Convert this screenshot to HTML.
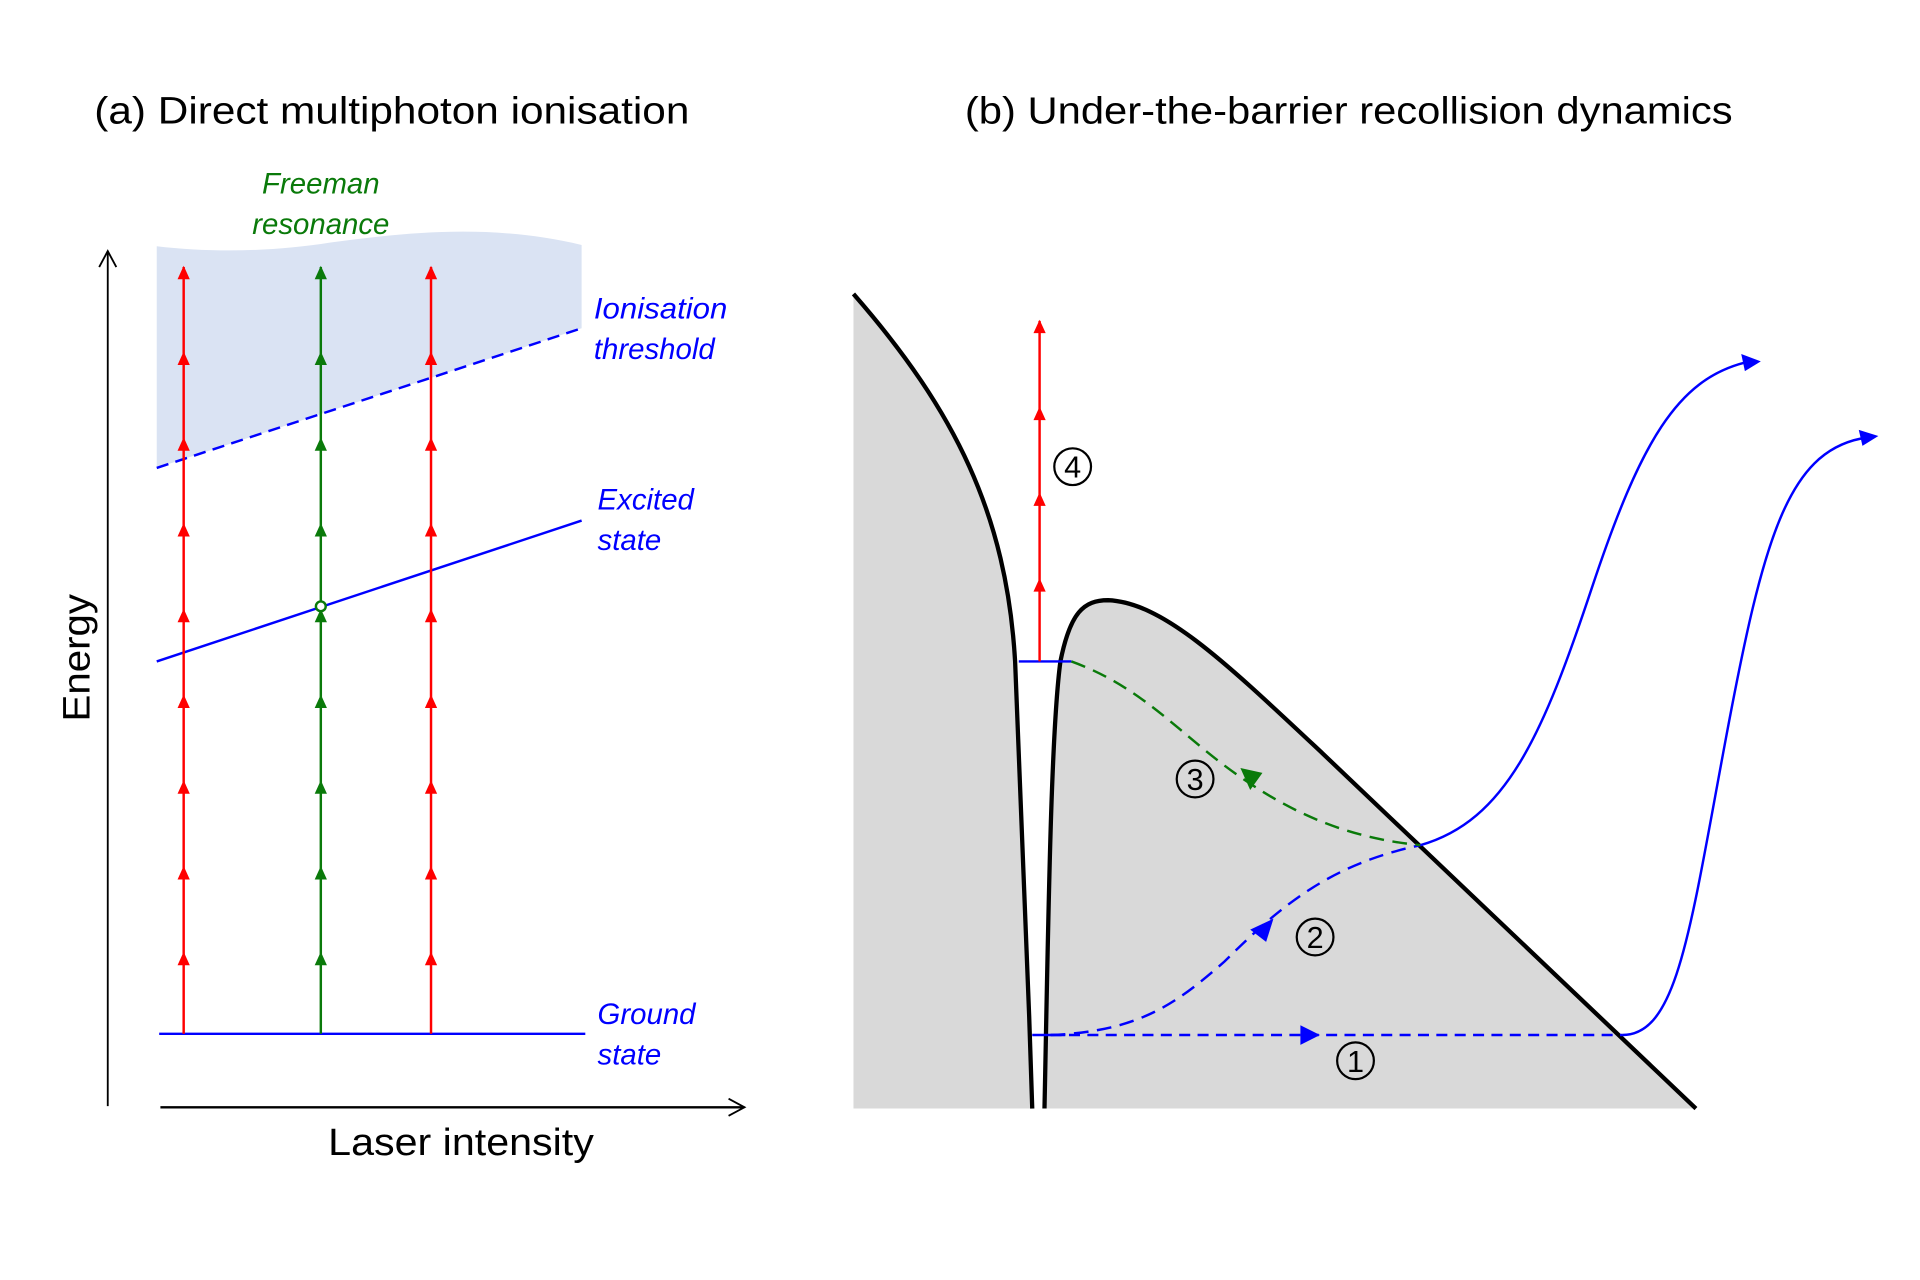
<!DOCTYPE html>
<html><head><meta charset="utf-8"><style>
html,body{margin:0;padding:0;background:#fff;}
svg{display:block;}
text{font-family:"Liberation Sans",sans-serif;}
</style></head><body>
<svg width="1920" height="1280" viewBox="0 0 1568 1045" preserveAspectRatio="none" xmlns="http://www.w3.org/2000/svg">
<!-- titles -->
<text x="77" y="101" font-size="31" textLength="486" lengthAdjust="spacingAndGlyphs">(a) Direct multiphoton ionisation</text>
<text x="788" y="101" font-size="31" textLength="627" lengthAdjust="spacingAndGlyphs">(b) Under-the-barrier recollision dynamics</text>
<!-- shaded continuum -->
<path d="M128,201 C170,206 220,206 270,198 C330,190 400,182 475,200 L475,268 L128,382 Z" fill="#dae3f3"/>
<!-- axes -->
<line x1="88" y1="205" x2="88" y2="903" stroke="#000" stroke-width="1.5"/>
<path d="M81,218 L88,205 L95,218" fill="none" stroke="#000" stroke-width="1.5"/>
<line x1="131" y1="904" x2="608" y2="904" stroke="#000" stroke-width="2"/>
<path d="M595,897 L608,904 L595,911" fill="none" stroke="#000" stroke-width="1.5"/>
<text x="268" y="943" font-size="31" textLength="217" lengthAdjust="spacingAndGlyphs">Laser intensity</text>
<text transform="translate(73,589) rotate(-90)" font-size="31" textLength="104" lengthAdjust="spacingAndGlyphs">Energy</text>
<!-- levels -->
<line x1="128" y1="382" x2="475" y2="268" stroke="blue" stroke-width="2" stroke-dasharray="10,6"/>
<line x1="128" y1="540" x2="475" y2="425" stroke="blue" stroke-width="2"/>
<line x1="130" y1="844" x2="478" y2="844" stroke="blue" stroke-width="2"/>
<!-- photon arrows -->
<g stroke-width="2">
<line x1="150" y1="844" x2="150" y2="218" stroke="red"/>
<line x1="262" y1="844" x2="262" y2="218" stroke="#0a7a0a"/>
<line x1="352" y1="844" x2="352" y2="218" stroke="red"/>
</g>
<g id="heads">
<path d="M145,228 L150,217 L155,228Z M145,298 L150,287 L155,298Z M145,368 L150,357 L155,368Z M145,438 L150,427 L155,438Z M145,508 L150,497 L155,508Z M145,578 L150,567 L155,578Z M145,648 L150,637 L155,648Z M145,718 L150,707 L155,718Z M145,788 L150,777 L155,788Z" fill="red"/>
</g>
<use href="#heads" x="202"/>
<g transform="translate(112,0)"><path d="M145,228 L150,217 L155,228Z M145,298 L150,287 L155,298Z M145,368 L150,357 L155,368Z M145,438 L150,427 L155,438Z M145,508 L150,497 L155,508Z M145,578 L150,567 L155,578Z M145,648 L150,637 L155,648Z M145,718 L150,707 L155,718Z M145,788 L150,777 L155,788Z" fill="#0a7a0a"/></g>
<circle cx="262" cy="495" r="4" fill="#fff" stroke="#0a7a0a" stroke-width="2"/>
<!-- labels -->
<g font-style="italic" font-size="24">
<text x="262" y="158" fill="#0a7a0a" text-anchor="middle">Freeman</text>
<text x="262" y="191" fill="#0a7a0a" text-anchor="middle">resonance</text>
<text x="485" y="260" fill="blue" textLength="109" lengthAdjust="spacingAndGlyphs">Ionisation</text>
<text x="485" y="293" fill="blue">threshold</text>
<text x="488" y="416" fill="blue">Excited</text>
<text x="488" y="449" fill="blue">state</text>
<text x="488" y="836" fill="blue">Ground</text>
<text x="488" y="869" fill="blue">state</text>
</g>
<!-- panel b potential -->
<path d="M697,240 C780,335 822,420 829,540 C834,650 839,780 843,905 L697,905 Z" fill="#d9d9d9"/>
<path d="M853,905 C856,760 858,600 866,540 C874,500 885,490 905,490 C950,492 1000,540 1080,615 L1385,905 Z" fill="#d9d9d9"/>
<path d="M697,240 C780,335 822,420 829,540 C834,650 839,780 843,905" fill="none" stroke="#000" stroke-width="3.5"/>
<path d="M853,905 C856,760 858,600 866,540 C874,500 885,490 905,490 C950,492 1000,540 1080,615 L1385,905" fill="none" stroke="#000" stroke-width="3.5"/>
<line x1="832" y1="540" x2="875" y2="540" stroke="blue" stroke-width="2"/>
<line x1="849" y1="540" x2="849" y2="262" stroke="red" stroke-width="2"/>
<path d="M844,272 L849,261 L854,272Z M844,343 L849,332 L854,343Z M844,413 L849,402 L854,413Z M844,483 L849,472 L854,483Z" fill="red"/>
<!-- ground in well -->
<line x1="843" y1="845" x2="870" y2="845" stroke="blue" stroke-width="2"/>
<line x1="858" y1="845" x2="1325" y2="845" stroke="blue" stroke-width="2" stroke-dasharray="9,6"/>
<path d="M1062,837 L1078,845 L1062,853Z" fill="blue"/>
<!-- path 2 -->
<path d="M858,845 C930,842 960,820 1000,785 C1050,735 1090,705 1160,690" fill="none" stroke="blue" stroke-width="2" stroke-dasharray="12,7"/>
<path d="M1040,750 L1034,769 L1021,759Z" fill="blue"/>
<!-- path 3 -->
<path d="M875,540 C930,560 960,595 1000,625 C1060,670 1110,685 1160,690" fill="none" stroke="#0a7a0a" stroke-width="2" stroke-dasharray="12,7"/>
<path d="M1013,627 L1031,631 L1021,645Z" fill="#0a7a0a"/>
<!-- escaping trajectories -->
<path d="M1160,690 C1230,670 1260,600 1300,480 C1340,360 1370,310 1425,296" fill="none" stroke="blue" stroke-width="2"/>
<path d="M1422,289 L1438,295 L1425,303Z" fill="blue"/>
<path d="M1325,845 C1370,845 1380,760 1410,600 C1440,440 1460,370 1520,358" fill="none" stroke="blue" stroke-width="2"/>
<path d="M1518,351 L1534,356 L1521,364Z" fill="blue"/>
<!-- circled numbers -->
<g font-size="25" text-anchor="middle" fill="#000">
<circle cx="876" cy="381" r="15" fill="none" stroke="#000" stroke-width="1.8"/><text x="876" y="390">4</text>
<circle cx="976" cy="636" r="15" fill="none" stroke="#000" stroke-width="1.8"/><text x="976" y="645">3</text>
<circle cx="1074" cy="765" r="15" fill="none" stroke="#000" stroke-width="1.8"/><text x="1074" y="774">2</text>
<circle cx="1107" cy="866" r="15" fill="none" stroke="#000" stroke-width="1.8"/><text x="1107" y="875">1</text>
</g>
</svg>
</body></html>
